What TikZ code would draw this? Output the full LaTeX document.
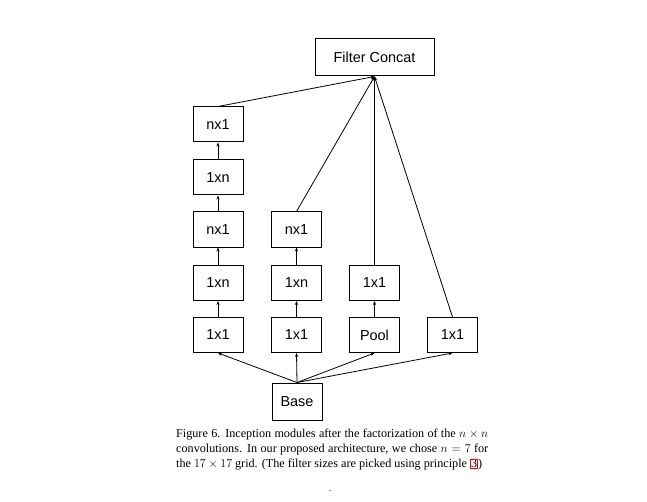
\documentclass[tikz,border=0pt]{standalone}
\usepackage{fontspec}
\setmainfont{Liberation Serif}
\newfontfamily\boxfont{Liberation Sans}
\usetikzlibrary{arrows.meta}
\tikzset{
  blk/.style={draw, line width=1bp, minimum width=50bp, minimum height=35bp, inner sep=0pt, font=\boxfont\fontsize{14.5}{16}\selectfont},
  conn/.style={line width=0.8bp, -{Stealth[length=4bp,width=3.2bp]}},
}
\begin{document}
\begin{tikzpicture}[x=1bp,y=-1bp]
\useasboundingbox (0,0) rectangle (647,502);
\node[blk, minimum width=119bp, minimum height=37bp] (concat) at (374.5,57.5) {Filter Concat};
% column 1
\node[blk] (a5) at (218,124.5) {nx1};
\node[blk] (a4) at (218,177.5) {1xn};
\node[blk] (a3) at (218,229.5) {nx1};
\node[blk] (a2) at (218,283) {1xn};
\node[blk] (a1) at (218,335) {1x1};
% column 2
\node[blk] (b3) at (296.5,229.5) {nx1};
\node[blk] (b2) at (296.5,283) {1xn};
\node[blk] (b1) at (296.5,335) {1x1};
% column 3
\node[blk] (c2) at (374.5,283) {1x1};
\node[blk] (c1) at (374.5,335) {Pool};
% column 4
\node[blk] (d1) at (452.5,335) {1x1};
% base
\node[blk, minimum height=37bp] (base) at (297,401.5) {Base};

\draw[conn] (a1) -- (a2);
\draw[conn] (a2) -- (a3);
\draw[conn] (a3) -- (a4);
\draw[conn] (a4) -- (a5);
\draw[conn] (b1) -- (b2);
\draw[conn] (b2) -- (b3);
\draw[conn] (c1) -- (c2);

\draw[conn] (a5.north) -- (concat.south);
\draw[conn] (b3.north) -- (concat.south);
\draw[conn] (c2.north) -- (concat.south);
\draw[conn] (d1.north) -- (concat.south);

\draw[conn] (base.north) -- (a1.south);
\draw[conn] (base.north) -- (b1.south);
\draw[conn] (base.north) -- (c1.south);
\draw[conn] (base.north) -- (d1.south);

\node[anchor=north west, inner sep=0pt, text width=312bp, align=justify,
  font=\fontsize{12.2}{15}\selectfont] (cap) at (176,429)
  {\hyphenpenalty=10000 Figure 6. Inception modules after the factorization of the $n\times n$ convolutions. In our proposed architecture, we chose $n=7$ for the $17\times17$ grid. (The filter sizes are picked using principle {\fboxsep=0.3bp\fboxrule=0.7bp\fcolorbox{red}{white}{3})}};
\node[inner sep=0pt, font=\fontsize{10}{10}\selectfont] (dot) at (330,491) {.};
\end{tikzpicture}
\end{document}
